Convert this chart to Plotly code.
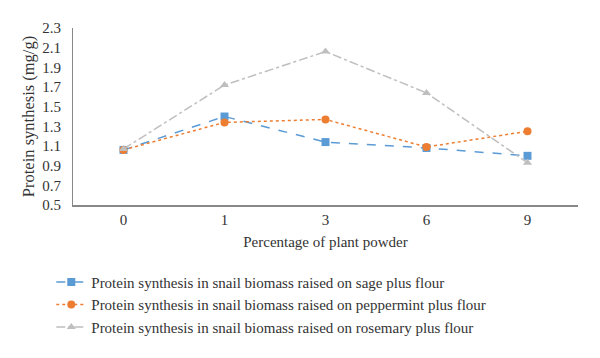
import plotly.graph_objects as go

categories = ["0", "1", "3", "6", "9"]
sage = [1.06, 1.40, 1.14, 1.08, 1.00]
peppermint = [1.06, 1.34, 1.37, 1.09, 1.25]
rosemary = [1.07, 1.72, 2.06, 1.64, 0.93]
y_ticks = [0.5, 0.7, 0.9, 1.1, 1.3, 1.5, 1.7, 1.9, 2.1, 2.3]

names = [
    "Protein synthesis in snail biomass raised on sage plus flour",
    "Protein synthesis in snail biomass raised on peppermint plus flour",
    "Protein synthesis in snail biomass raised on rosemary plus flour",
]

FONT = "Liberation Serif"
fig = go.Figure()
fig.add_trace(go.Scatter(x=categories, y=sage, name=names[0], mode="lines+markers",
                         line=dict(color="#5B9BD5", width=1.5, dash="dash"),
                         marker=dict(symbol="square", size=8, color="#5B9BD5")))
fig.add_trace(go.Scatter(x=categories, y=peppermint, name=names[1], mode="lines+markers",
                         line=dict(color="#ED7D31", width=1.5, dash="dot"),
                         marker=dict(symbol="circle", size=8, color="#ED7D31")))
fig.add_trace(go.Scatter(x=categories, y=rosemary, name=names[2], mode="lines+markers",
                         line=dict(color="#BFBFBF", width=1.5, dash="dashdot"),
                         marker=dict(symbol="triangle-up", size=8, color="#BFBFBF")))

fig.update_layout(
    width=600, height=358,
    margin=dict(l=65, r=30, t=20, b=161, autoexpand=False),
    paper_bgcolor="white", plot_bgcolor="white",
    font=dict(family=FONT, size=15, color="#333333"),
    xaxis=dict(type="category", range=[-0.5, 4.5], showgrid=False, showline=True,
               linecolor="#888888", linewidth=1.5, ticks="", tickfont=dict(size=15),
               automargin=False,
               title=dict(text="Percentage of plant powder", font=dict(size=15), standoff=10)),
    yaxis=dict(range=[0.5, 2.3], tickvals=y_ticks, ticktext=[f"{v:.1f}" for v in y_ticks],
               showgrid=False, showline=True, linecolor="#888888", linewidth=1.2,
               ticks="", zeroline=False, tickfont=dict(size=15), ticklabelstandoff=8,
               automargin=False,
               title=dict(text="Protein synthesis (mg/g)", font=dict(size=16.5), standoff=3)),
    legend=dict(x=-0.043, xanchor="left", y=-0.343, yanchor="top",
                font=dict(size=15), tracegroupgap=0, itemwidth=30),
    showlegend=True,
)
fig.write_html("out.html")
